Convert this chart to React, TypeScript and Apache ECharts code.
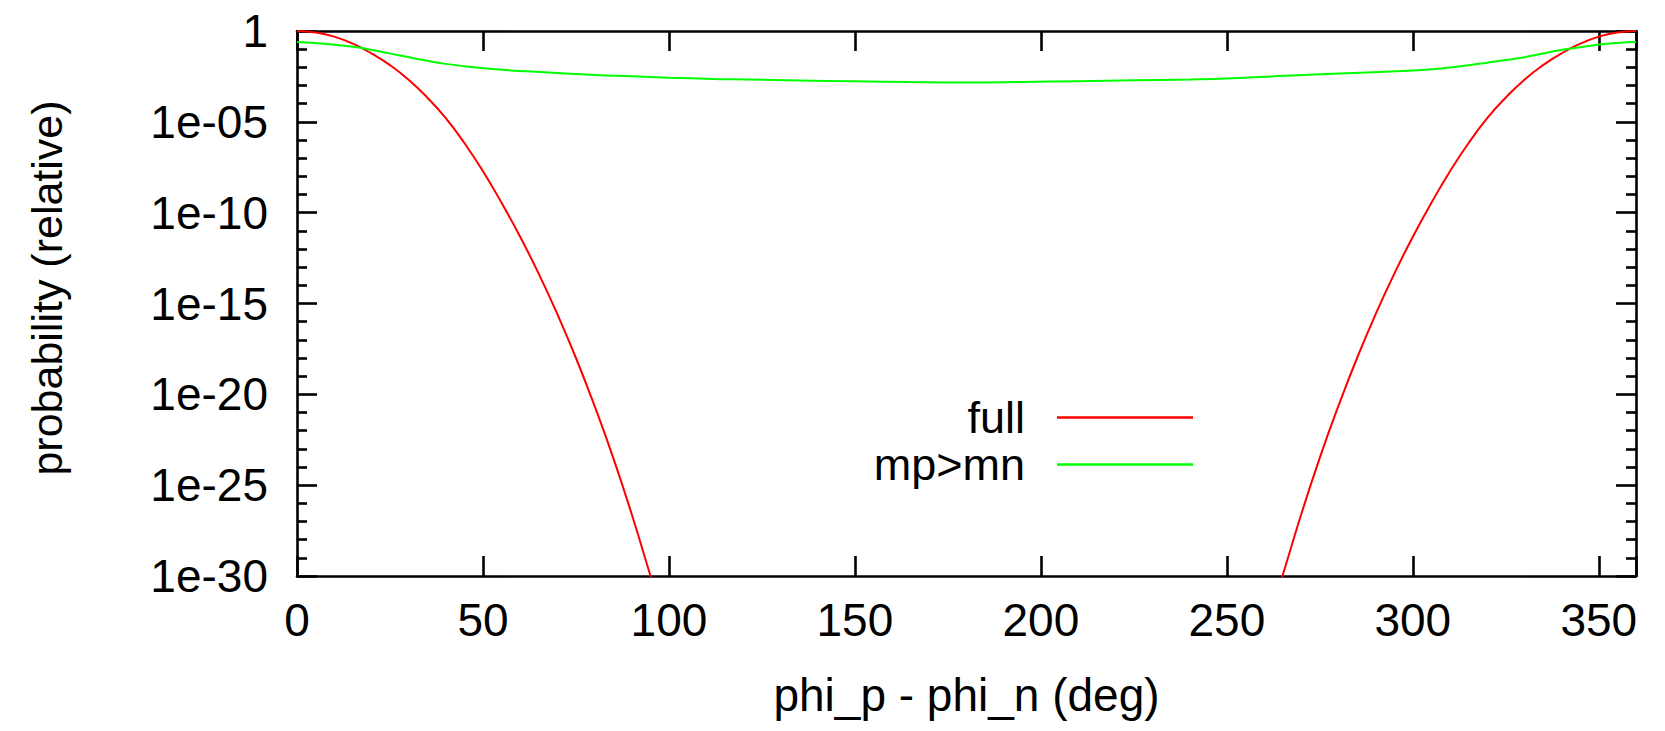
import React, { useEffect, useRef } from "react";
import * as echarts from "echarts";

// x ticks (deg)
const xTickValues = [0, 50, 100, 150, 200, 250, 300, 350];
// y tick labels (log decades)
const yTickLabels = ["1e-30", "1e-25", "1e-20", "1e-15", "1e-10", "1e-05", "1"];

// "full" curve, left branch
const fullLeftDeg = [0, 5, 10, 15, 20, 25, 30, 35, 40, 45, 50, 55, 60, 65, 70, 75, 80, 85, 90, 95, 96];
const fullLeftVal = [1, 0.83, 0.49, 0.2, 0.059, 0.0132, 2.1e-3, 2.2e-4, 1.6e-5, 6.8e-7, 1.9e-8, 3.5e-10, 4.7e-12, 4.3e-14, 2.6e-16, 1e-18, 2.3e-21, 3.3e-24, 2.5e-27, 1.07e-30, 2.5e-31];
// "full" curve, right branch
const fullRightDeg = [264, 265, 270, 275, 280, 285, 290, 295, 300, 305, 310, 315, 320, 325, 330, 335, 340, 345, 350, 355, 360];
const fullRightVal = [2.5e-31, 1.07e-30, 2.5e-27, 3.3e-24, 2.3e-21, 1e-18, 2.6e-16, 4.3e-14, 4.7e-12, 3.5e-10, 1.9e-8, 6.8e-7, 1.6e-5, 2.2e-4, 2.1e-3, 0.0132, 0.059, 0.2, 0.49, 0.83, 1];

// "mp>mn" curve
const mpDeg = [0, 8, 16, 22, 27, 32, 36, 40, 45, 50, 55, 62, 71, 80, 90, 100, 112, 121, 135, 150, 165, 180, 195, 210, 225, 240, 250, 266, 284, 300, 306, 311, 316, 320, 325, 330, 335, 339, 344, 350, 355, 360];
const mpVal = [0.245, 0.19, 0.126, 0.076, 0.048, 0.03, 0.021, 0.0155, 0.0115, 0.009, 0.0074, 0.006, 0.0047, 0.0038, 0.0032, 0.0027, 0.0023, 0.00214, 0.0019, 0.0017, 0.00155, 0.00148, 0.00158, 0.00174, 0.00195, 0.00214, 0.0024, 0.0034, 0.0049, 0.0066, 0.0081, 0.0105, 0.0138, 0.018, 0.025, 0.036, 0.058, 0.085, 0.12, 0.178, 0.22, 0.245];

const FONT = '"Liberation Sans", Arial, Helvetica, sans-serif';
const FS = 46;

function labelFor(v: number): string {
  const idx = Math.round((v + 30) / 5);
  return yTickLabels[idx] ?? "";
}

export default function App() {
  const ref = useRef<HTMLDivElement>(null);
  useEffect(() => {
    if (!ref.current) return;
    const chart = echarts.init(ref.current, undefined, { renderer: "svg" });
    const toPts = (d: number[], v: number[]) => d.map((x, i) => [x, Math.log10(v[i])]);
    const fullData: any[] = [
      ...toPts(fullLeftDeg, fullLeftVal),
      [180, null],
      ...toPts(fullRightDeg, fullRightVal),
    ];
    const mpData = toPts(mpDeg, mpVal);

    const axisLine = { show: true, onZero: false, lineStyle: { color: "#000", width: 2.6 } };
    const axisTick = { show: true, inside: true, length: 20, lineStyle: { color: "#000", width: 2.6 } };
    const xBase = {
      type: "value",
      min: 0,
      max: 360,
      interval: 50,
      axisLine,
      axisTick,
      splitLine: { show: false },
    };
    const yBase = {
      type: "value",
      min: -30,
      max: 0,
      interval: 5,
      axisLine,
      axisTick,
      minorTick: { show: true, splitNumber: 5, length: 10, lineStyle: { color: "#000", width: 2.6 } },
      splitLine: { show: false },
      minorSplitLine: { show: false },
    };

    chart.setOption({
      animation: false,
      backgroundColor: "#fff",
      grid: { left: 297, right: 29, top: 31, bottom: 155, containLabel: false },
      xAxis: [
        {
          ...xBase,
          position: "bottom",
          axisLabel: {
            show: true,
            fontSize: FS,
            fontFamily: FONT,
            color: "#000",
            margin: 21,
            customValues: xTickValues,
          },
          name: "phi_p - phi_n (deg)",
          nameLocation: "middle",
          nameGap: 96,
          nameTextStyle: { fontSize: FS, fontFamily: FONT, color: "#000" },
        },
        {
          ...xBase,
          position: "top",
          axisLabel: { show: false },
        },
      ],
      yAxis: [
        {
          ...yBase,
          position: "left",
          axisLabel: {
            show: true,
            fontSize: FS,
            fontFamily: FONT,
            color: "#000",
            margin: 29,
            formatter: (v: number) => labelFor(v),
          },
        },
        {
          ...yBase,
          position: "right",
          axisLabel: { show: false },
        },
      ],
      legend: {
        orient: "vertical",
        right: 467,
        top: 390,
        align: "right",
        icon: "rect",
        itemWidth: 136,
        itemHeight: 2.5,
        itemGap: 2,
        textStyle: { fontSize: 45, fontFamily: FONT, color: "#000", lineHeight: 44, padding: [0, 27, 0, 0] },
        data: ["full", "mp>mn"],
      },
      graphic: [
        {
          type: "text",
          x: 47,
          y: 288,
          rotation: Math.PI / 2,
          style: {
            text: "probability (relative)",
            fontSize: 43,
            fontFamily: FONT,
            fill: "#000",
            align: "center",
            verticalAlign: "middle",
          },
        },
      ],
      series: [
        {
          name: "full",
          type: "line",
          xAxisIndex: 0,
          yAxisIndex: 0,
          data: fullData,
          symbol: "none",
          smooth: true,
          connectNulls: false,
          clip: true,
          color: "#ff0000",
          lineStyle: { color: "#ff0000", width: 2 },
        },
        {
          name: "mp>mn",
          type: "line",
          xAxisIndex: 0,
          yAxisIndex: 0,
          data: mpData,
          symbol: "none",
          smooth: true,
          clip: true,
          color: "#00ff00",
          lineStyle: { color: "#00ff00", width: 2 },
        },
      ],
    });
    return () => chart.dispose();
  }, []);
  return (
    <div
      ref={ref}
      style={{ position: "absolute", left: 0, top: 0, width: 1665, height: 731, background: "#fff" }}
    />
  );
}
